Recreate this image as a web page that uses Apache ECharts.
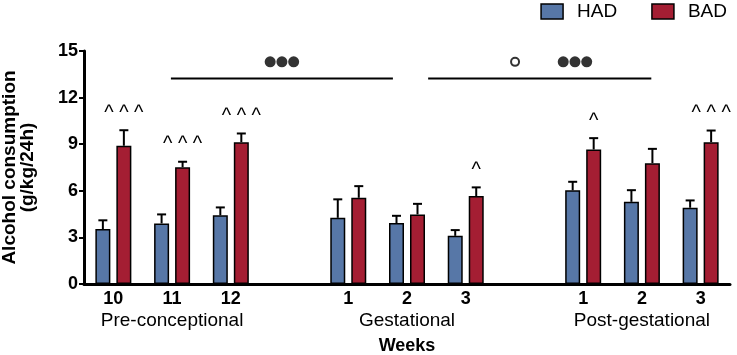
<!DOCTYPE html>
<html>
<head>
<meta charset="utf-8">
<script src="https://cdn.jsdelivr.net/npm/echarts@6/dist/echarts.min.js"></script>
<style>
  html, body { margin: 0; padding: 0; background: #fff; }
  #chart { width: 737px; height: 355px; }
</style>
</head>
<body>
<div id="chart"></div>
<script>
// weeks, with two empty slots as gaps between the periods
var weeks = ['10', '11', '12', '', '1', '2', '3', '', '1', '2', '3']
var periods = { 1: 'Pre-conceptional', 5: 'Gestational', 9: 'Post-gestational' }

var hadMean = [3.54, 3.9, 4.42, '-', 4.26, 3.92, 3.1, '-', 6.03, 5.29, 4.91]
var hadSem = [0.56, 0.58, 0.51, '-', 1.19, 0.47, 0.37, '-', 0.55, 0.75, 0.47]
var badMean = [8.9, 7.52, 9.13, '-', 5.55, 4.48, 5.66, '-', 8.66, 7.78, 9.13]
var badSem = [1.0, 0.35, 0.56, '-', 0.75, 0.68, 0.56, '-', 0.73, 0.92, 0.75]
var badMarks = ['^ ^ ^', '^ ^ ^', '^ ^ ^', '', '', '', '^', '', '^', '', '^ ^ ^']

// significance brackets across periods (x in category index units)
var sigLevel = 13.23
var sigLines = [[0.98, 4.76], [5.36, 9.16]]
var dotLevel = 14.3
var filledDots = [2.67, 2.87, 3.07, 7.66, 7.86, 8.06]
var openDots = [6.84]

var blue = '#5777a7'
var red = '#a41e33'
var font = 'Liberation Sans'

var barW = 15
var barGap = 6
var shift = (barW + barGap) / 2

function errData(mean, sem) {
  var out = []
  for (var i = 0; i < mean.length; i++) {
    if (mean[i] === '-') continue
    out.push([i, mean[i], sem[i]])
  }
  return out
}

function errorItem(offset, marks) {
  return function(params, api) {
    var idx = api.value(0)
    var x = api.coord([idx, 0])[0] + offset
    var yTop = api.coord([idx, api.value(1)])[1]
    var yErr = api.coord([idx, api.value(1) + api.value(2)])[1]
    var children = [
      { type: 'line', shape: { x1: x, y1: yTop, x2: x, y2: yErr }, style: { stroke: '#000', lineWidth: 2 } },
      { type: 'line', shape: { x1: x - 4.5, y1: yErr, x2: x + 4.5, y2: yErr }, style: { stroke: '#000', lineWidth: 2 } }
    ]
    if (marks && marks[idx]) {
      children.push({
        type: 'text',
        style: {
          x: x, y: yErr - 17, text: marks[idx], fill: '#000',
          font: '20px "' + font + '"', align: 'center', verticalAlign: 'middle'
        }
      })
    }
    return { type: 'group', children: children }
  }
}

var series = [
  {
    name: 'HAD', type: 'bar', data: hadMean, barWidth: barW, barGap: (barGap / barW * 100) + '%',
    itemStyle: { color: blue, borderColor: '#000', borderWidth: 1.5 }
  },
  {
    name: 'BAD', type: 'bar', data: badMean, barWidth: barW,
    itemStyle: { color: red, borderColor: '#000', borderWidth: 1.5 }
  },
  {
    type: 'custom', renderItem: errorItem(-shift, null), data: errData(hadMean, hadSem),
    encode: { x: 0, y: 1 }, z: 3
  },
  {
    type: 'custom', renderItem: errorItem(shift, badMarks), data: errData(badMean, badSem),
    encode: { x: 0, y: 1 }, z: 3
  }
]

sigLines.forEach(function(s) {
  series.push({
    type: 'line', xAxisIndex: 1, data: [[s[0], sigLevel], [s[1], sigLevel]],
    symbol: 'none', lineStyle: { color: '#000', width: 2 }, silent: true
  })
})
series.push({
  type: 'scatter', xAxisIndex: 1, symbolSize: 11,
  data: filledDots.map(function(d) { return [d, dotLevel] }),
  itemStyle: { color: '#000' }
})
series.push({
  type: 'scatter', xAxisIndex: 1, symbolSize: 8,
  data: openDots.map(function(d) { return [d, dotLevel] }),
  itemStyle: { color: '#fff', borderColor: '#000', borderWidth: 2 }
})

var chart = echarts.init(document.getElementById('chart'))
chart.setOption({
  animation: false,
  textStyle: { fontFamily: font },
  grid: { left: 84, right: 7, top: 51, bottom: 71, outerBoundsMode: 'none', containLabel: false },
  legend: {
    data: ['HAD', 'BAD'], right: 10, top: 2, padding: 0,
    itemWidth: 22, itemHeight: 15, itemGap: 34, icon: 'rect',
    itemStyle: { borderColor: '#000', borderWidth: 1.5 },
    textStyle: { fontSize: 19, color: '#000', fontFamily: font, padding: [0, 0, 0, 9] }
  },
  xAxis: [
    {
      type: 'category', data: weeks,
      axisLine: { lineStyle: { color: '#000', width: 3 } },
      axisTick: { show: false },
      axisLabel: {
        interval: 0, margin: 6, color: '#000',
        formatter: function(v, i) {
          var s = '{c|' + v + '}'
          if (periods[i]) s += '\n{g|' + periods[i] + '}'
          return s
        },
        rich: {
          c: { fontSize: 18, fontWeight: 'bold', lineHeight: 19, fontFamily: font, color: '#000' },
          g: { fontSize: 19, lineHeight: 24, fontFamily: font, color: '#000' }
        }
      },
      name: 'Weeks', nameLocation: 'middle', nameGap: 53,
      nameTextStyle: { fontSize: 18, fontWeight: 'bold', color: '#000', fontFamily: font }
    },
    { type: 'value', min: -0.5, max: 10.5, show: false }
  ],
  yAxis: {
    type: 'value', min: 0, max: 15, interval: 3,
    splitLine: { show: false },
    axisLine: { show: true, onZero: false, lineStyle: { color: '#000', width: 3 } },
    axisTick: { show: true, length: 5, lineStyle: { color: '#000', width: 2 } },
    axisLabel: { fontSize: 18, fontWeight: 'bold', color: '#000', margin: 6 },
    name: 'Alcohol consumption\n(g/kg/24h)', nameLocation: 'middle', nameGap: 47,
    nameTextStyle: { fontSize: 19, fontWeight: 'bold', color: '#000', lineHeight: 18, fontFamily: font }
  },
  series: series
})
</script>
</body>
</html>
